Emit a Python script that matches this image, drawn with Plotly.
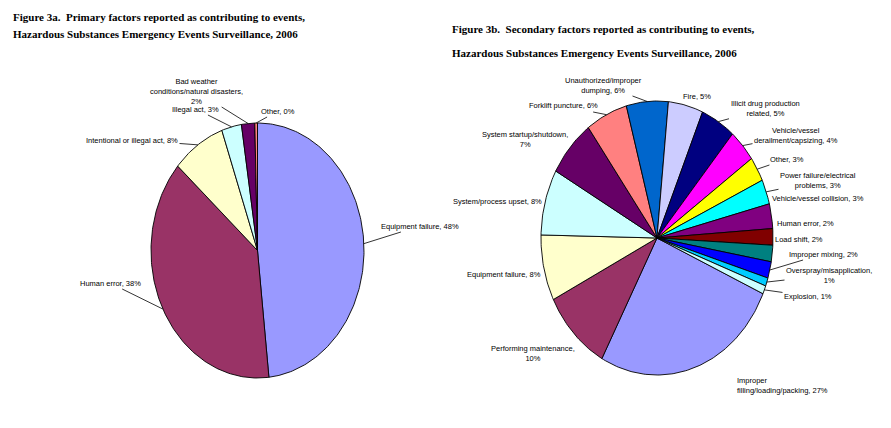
import numpy as np
import plotly.graph_objects as go

W, H = 891, 428

# ---------------- Data ----------------
# Figure 3a: primary factors
a_categories = ["Equipment failure", "Human error", "Intentional or illegal act",
                "Illegal act", "Bad weather conditions/natural disasters", "Other"]
a_values = [48, 38, 8, 3, 2, 0.4]
a_colors = ["#9999FF", "#993366", "#FFFFCC", "#CCFFFF", "#660066", "#FF8080"]
a_label_text = ["Equipment failure, 48%", "Human error, 38%", "Intentional or illegal act, 8%",
                "Illegal act, 3%", "Bad weather<br>conditions/natural disasters,<br>2%", "Other, 0%"]

# Figure 3b: secondary factors
b_categories = ["Improper filling/loading/packing", "Performing maintenance", "Equipment failure",
                "System/process upset", "System startup/shutdown", "Forklift puncture",
                "Unauthorized/improper dumping", "Fire", "Illicit drug production related",
                "Vehicle/vessel derailment/capsizing", "Other", "Power failure/electrical problems",
                "Vehicle/vessel collision", "Human error", "Load shift", "Improper mixing",
                "Overspray/misapplication", "Explosion"]
b_values = [27, 10, 8, 8, 7, 6, 6, 5, 5, 4, 3, 3, 3, 2, 2, 2, 1, 1]
b_colors = ["#9999FF", "#993366", "#FFFFCC", "#CCFFFF", "#660066", "#FF8080", "#0066CC",
            "#CCCCFF", "#000080", "#FF00FF", "#FFFF00", "#00FFFF", "#800080", "#800000",
            "#008080", "#0000FF", "#00CCFF", "#CCFFFF"]
b_label_text = ["Improper<br>filling/loading/packing, 27%", "Performing maintenance,<br>10%",
                "Equipment failure, 8%", "System/process upset, 8%", "System startup/shutdown,<br>7%",
                "Forklift puncture, 6%", "Unauthorized/improper<br>dumping, 6%", "Fire, 5%",
                "Illicit drug production<br>related, 5%", "Vehicle/vessel<br>derailment/capsizing, 4%",
                "Other, 3%", "Power failure/electrical<br>problems, 3%", "Vehicle/vessel collision, 3%",
                "Human error, 2%", "Load shift, 2%", "Improper mixing, 2%",
                "Overspray/misapplication,<br>1%", "Explosion, 1%"]

# ---------------- Layout constants (pixels) ----------------
# pie geometry: centre x, centre y, radius x, radius y, start angle (deg clockwise from 12 o'clock)
A_GEOM = dict(cx=249.5, cy=242.5, rx=106.5, ry=127.5, start=0)
B_GEOM = dict(cx=649.0, cy=230.0, rx=116.0, ry=137.0, start=114)

# label positions (px), xanchor, leader line?
A_LABEL_POS = [(412, 218, "center", True), (102, 275, "center", True), (124, 132, "center", True),
               (188, 101, "center", True), (188, 83, "center", True), (270, 103, "center", True)]
B_LABEL_POS = [(727, 377, "left", False), (525, 345, "center", False), (496, 266, "center", False),
               (489, 193, "center", False), (517, 132, "center", False), (555, 98, "center", True),
               (595, 77, "center", True), (689, 88, "center", False), (757, 101, "center", True),
               (788, 127, "center", True), (779, 151, "center", True), (810, 173, "center", True),
               (810, 190, "center", False), (797, 215, "center", False), (791, 231, "center", False),
               (815, 246, "center", True), (821, 267, "center", True), (800, 288, "center", True)]

LABEL_FONT = dict(family="Liberation Sans, Arial, sans-serif", size=7.5, color="#000000")
TITLE_FONT = dict(family="Liberation Serif, Times New Roman, serif", size=11, color="#000000")
PAD = 1.04

fig = go.Figure()


def add_pie(values, colors, names, geom, xa, ya):
    total = float(sum(values))
    start = geom["start"]
    mids = []
    for v, c, nm in zip(values, colors, names):
        span = v / total * 360.0
        n = max(3, int(np.ceil(span / 1.0)) + 1)
        th = np.radians(np.linspace(start, start + span, n))
        xs = np.concatenate([[0.0], np.sin(th), [0.0]])
        ys = np.concatenate([[0.0], np.cos(th), [0.0]])
        fig.add_trace(go.Scatter(x=xs, y=ys, mode="lines", fill="toself", fillcolor=c,
                                 line=dict(color="#000000", width=0.9), name=nm,
                                 hoverinfo="name", showlegend=False, xaxis=xa, yaxis=ya))
        mids.append(start + span / 2.0)
        start += span
    return mids


a_mids = add_pie(a_values, a_colors, a_categories, A_GEOM, "x", "y")
b_mids = add_pie(b_values, b_colors, b_categories, B_GEOM, "x2", "y2")


def axis_domains(g):
    x0 = (g["cx"] - g["rx"] * PAD) / W
    x1 = (g["cx"] + g["rx"] * PAD) / W
    y0 = 1 - (g["cy"] + g["ry"] * PAD) / H
    y1 = 1 - (g["cy"] - g["ry"] * PAD) / H
    return [x0, x1], [y0, y1]


ax_common = dict(visible=False, showgrid=False, zeroline=False, range=[-PAD, PAD], fixedrange=True)
adx, ady = axis_domains(A_GEOM)
bdx, bdy = axis_domains(B_GEOM)

annotations = []


def build_labels(texts, positions, mids, geom):
    for t, (lx, ly, xanc, leader), m in zip(texts, positions, mids):
        if leader:
            tx = geom["cx"] + geom["rx"] * np.sin(np.radians(m))
            ty = geom["cy"] - geom["ry"] * np.cos(np.radians(m))
            annotations.append(dict(x=tx / W, y=1 - ty / H, xref="paper", yref="paper",
                                    ax=lx - tx, ay=ly - ty, axref="pixel", ayref="pixel",
                                    text=t, showarrow=True, arrowhead=0, arrowwidth=0.8,
                                    arrowcolor="#000000", standoff=0, font=LABEL_FONT,
                                    align="center"))
        else:
            annotations.append(dict(x=lx / W, y=1 - ly / H, xref="paper", yref="paper",
                                    text=t, showarrow=False, xanchor=xanc, yanchor="middle",
                                    font=LABEL_FONT, align="left" if xanc == "left" else "center"))


build_labels(a_label_text, A_LABEL_POS, a_mids, A_GEOM)
build_labels(b_label_text, B_LABEL_POS, b_mids, B_GEOM)

# Titles
annotations.append(dict(x=3 / W, y=1 - 1 / H, xref="paper", yref="paper", xanchor="left", yanchor="top",
                        text="<b>Figure 3a.  Primary factors reported as contributing to events,</b>",
                        showarrow=False, font=TITLE_FONT))
annotations.append(dict(x=3 / W, y=1 - 18 / H, xref="paper", yref="paper", xanchor="left", yanchor="top",
                        text="<b>Hazardous Substances Emergency Events Surveillance, 2006</b>",
                        showarrow=False, font=TITLE_FONT))
annotations.append(dict(x=442 / W, y=1 - 13 / H, xref="paper", yref="paper", xanchor="left", yanchor="top",
                        text="<b>Figure 3b.  Secondary factors reported as contributing to events,</b>",
                        showarrow=False, font=TITLE_FONT))
annotations.append(dict(x=442 / W, y=1 - 37 / H, xref="paper", yref="paper", xanchor="left", yanchor="top",
                        text="<b>Hazardous Substances Emergency Events Surveillance, 2006</b>",
                        showarrow=False, font=TITLE_FONT))

fig.update_layout(
    width=W, height=H,
    margin=dict(l=0, r=0, t=0, b=0),
    paper_bgcolor="#FFFFFF", plot_bgcolor="rgba(0,0,0,0)",
    xaxis=dict(domain=adx, **ax_common), yaxis=dict(domain=ady, **ax_common),
    xaxis2=dict(domain=bdx, anchor="y2", **ax_common), yaxis2=dict(domain=bdy, anchor="x2", **ax_common),
    annotations=annotations,
    showlegend=False,
)

fig.write_html("out.html")
